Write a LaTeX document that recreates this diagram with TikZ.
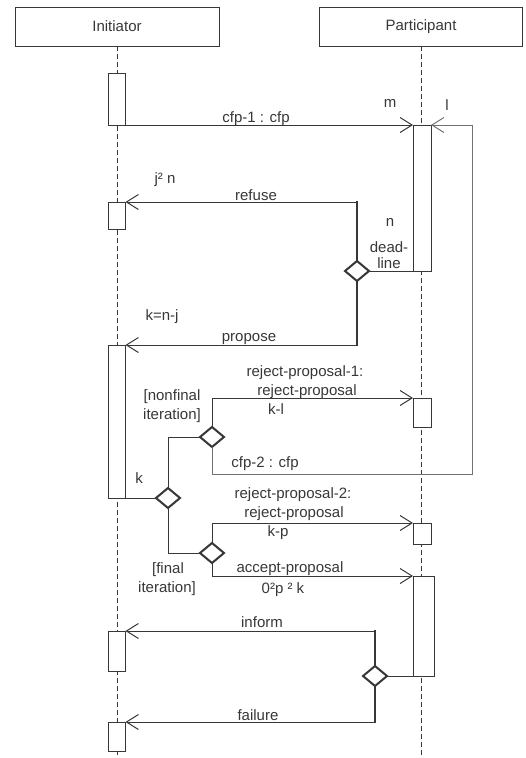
\documentclass[tikz,border=0pt]{standalone}
\usepackage{fontspec}
\setmainfont{Liberation Sans}
\usetikzlibrary{arrows.meta, shapes.geometric}
\definecolor{inkgray}{RGB}{55,55,55}
\definecolor{loopgray}{RGB}{115,115,115}

\tikzset{
  lifebox/.style={draw=inkgray, line width=1pt, minimum height=39pt, inner sep=0pt, outer sep=0pt, text=inkgray, font=\fontsize{15}{17}\selectfont},
  actbox/.style={draw=inkgray, fill=white, line width=1pt, minimum width=17pt, inner sep=0pt, outer sep=0pt},
  choice/.style={diamond, draw=inkgray, fill=white, line width=2pt, minimum width=24pt, minimum height=20pt, inner sep=0pt, outer sep=0pt},
  wire/.style={draw=inkgray, line width=1pt},
  msg/.style={wire, -{Straight Barb[length=12pt,width=15pt]}},
  branch/.style={draw=inkgray, line width=2.4pt, line cap=rect},
  lifeline/.style={draw=inkgray, line width=1pt, dash pattern=on 5pt off 3pt},
  lbl/.style={text=inkgray, font=\fontsize{15}{17}\selectfont, inner sep=0pt, anchor=base}
}

\begin{document}
\begin{tikzpicture}[x=1pt, y=-1pt]
  \useasboundingbox (0,0) rectangle (525,758);

  \node[lifebox, minimum width=204pt] (init) at (117,26.5) {Initiator};
  \node[lifebox, minimum width=203pt] (part) at (421,26.5) {Participant};
  \draw[lifeline] (init.south) -- (117,758);
  \draw[lifeline] (part.south) -- (421,758);

  \node[actbox, minimum height=52pt] (ia1) at (117,99) {};
  \node[actbox, minimum height=27pt] (ia2) at (117,215.5) {};
  \node[actbox, minimum height=153pt] (ia3) at (117,421.5) {};
  \node[actbox, minimum height=40pt] (ia4) at (117,651) {};
  \node[actbox, minimum height=29pt] (ia5) at (117,736.5) {};
  \node[actbox, minimum width=18pt, minimum height=146pt] (pa1) at (422,198) {};
  \node[actbox, minimum width=18pt, minimum height=29pt] (pa2) at (422,412.5) {};
  \node[actbox, minimum width=18pt, minimum height=21pt] (pa3) at (422,533.5) {};
  \node[actbox, minimum width=21pt, minimum height=100pt] (pa4) at (423.5,626) {};

  \node[choice] (d1) at (357,271) {};
  \node[choice] (d2) at (212,437) {};
  \node[choice] (dk) at (168,498) {};
  \node[choice] (d3) at (212,553) {};
  \node[choice] (d4) at (375,676) {};
  \coordinate (lc) at (472,474);

  \draw[msg] (ia1.south east) -- (pa1.north west);
  \draw[msg, draw=loopgray] (d2.south) |- (lc) |- (pa1.north east);
  \draw[branch] (d1.north) -- (d1.north |- ia2.north);
  \draw[msg] (d1.north |- ia2.north) -- (ia2.north east);
  \draw[wire] (d1.east) -- (pa1.south west);
  \draw[branch] (d1.south) -- (d1.south |- ia3.north);
  \draw[msg] (d1.south |- ia3.north) -- (ia3.north east);
  \draw[wire] (ia3.south east) -- (dk.west);
  \draw[wire] (dk.north) |- (d2.west);
  \draw[msg] (d2.north) |- (pa2.north west);
  \draw[wire] (dk.south) |- (d3.west);
  \draw[msg] (d3.north) |- (pa3.north west);
  \draw[msg] (d3.south) |- (pa4.north west);
  \draw[wire] (pa4.south west) -- (d4.east);
  \draw[branch] (d4.north) -- (d4.north |- ia4.north);
  \draw[msg] (d4.north |- ia4.north) -- (ia4.north east);
  \draw[branch] (d4.south) -- (d4.south |- ia5.north);
  \draw[msg] (d4.south |- ia5.north) -- (ia5.north east);

  \node[lbl] (tcfp1) at (256,122) {cfp-1 : cfp};
  \node[lbl] (tm) at (390,107) {m};
  \node[lbl] (tl) at (447,110) {l};
  \node[lbl] (tj) at (165,183) {j² n};
  \node[lbl] (trefuse) at (256,200) {refuse};
  \node[lbl] (tn) at (390,226) {n};
  \node[lbl] (tdead) at (389,252) {dead-};
  \node[lbl] (tline) at (389,268) {line};
  \node[lbl] (tknj) at (162,320) {k=n-j};
  \node[lbl] (tpropose) at (249,341) {propose};
  \node[lbl] (trp1a) at (305,376) {reject-proposal-1:};
  \node[lbl] (trp1b) at (307,395) {reject-proposal};
  \node[lbl] (tkl) at (276,414) {k-l};
  \node[lbl] (tnonfin) at (172,400) {[nonfinal};
  \node[lbl] (tnonit) at (172,419) {iteration]};
  \node[lbl] (tcfp2) at (265,467) {cfp-2 : cfp};
  \node[lbl] (tk) at (139,483) {k};
  \node[lbl] (trp2a) at (293,498) {reject-proposal-2:};
  \node[lbl] (trp2b) at (294,517) {reject-proposal};
  \node[lbl] (tkp) at (278,536) {k-p};
  \node[lbl] (tfin) at (168,573) {[final};
  \node[lbl] (tfinit) at (167,592) {iteration]};
  \node[lbl] (taccept) at (290,572) {accept-proposal};
  \node[lbl] (tpk) at (283,593) {0²p ² k};
  \node[lbl] (tinform) at (262,627) {inform};
  \node[lbl] (tfailure) at (258,720) {failure};
\end{tikzpicture}
\end{document}
